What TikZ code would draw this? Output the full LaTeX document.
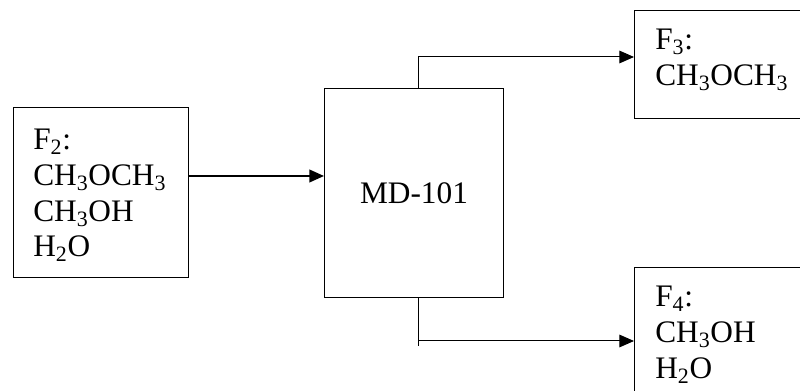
\documentclass[tikz,border=0pt]{standalone}
\usepackage{fontspec}
\setmainfont{Liberation Serif}
\usetikzlibrary{arrows.meta}
\begin{document}
\begin{tikzpicture}[x=0.75pt,y=-0.75pt,
  box/.style={draw, line width=0.75pt, inner sep=0pt, anchor=north west},
  txt/.style={inner sep=0pt, font=\fontsize{23.5}{26.75}\selectfont},
  lbl/.style={txt, anchor=base west},
  flow/.style={line width=0.75pt, -{Triangle[length=11pt,width=9.5pt]}}]
\useasboundingbox (0,0) rectangle (800,391);
\clip (0,0) rectangle (800,391);
% boxes
\node[box, minimum width=131.25pt, minimum height=127.5pt] (f2) at (13,107) {};
\node[box, minimum width=134.25pt, minimum height=156.75pt] (md) at (324,88) {};
\node[box, minimum width=132pt, minimum height=81pt] (f3) at (634,10) {};
\node[box, minimum width=132pt, minimum height=99.75pt] (f4) at (634,267) {};
% labels
\node[txt] (mdl) at (md.center) {MD-101};
\node[lbl] (f2t) at (33,150) {\begin{tabular}[t]{@{}l@{}}F\textsubscript{2}:\\CH\textsubscript{3}OCH\textsubscript{3}\\CH\textsubscript{3}OH\\H\textsubscript{2}O\end{tabular}};
\node[lbl] (f3t) at (655,50) {\begin{tabular}[t]{@{}l@{}}F\textsubscript{3}:\\CH\textsubscript{3}OCH\textsubscript{3}\end{tabular}};
\node[lbl] (f4t) at (655,307) {\begin{tabular}[t]{@{}l@{}}F\textsubscript{4}:\\CH\textsubscript{3}OH\\H\textsubscript{2}O\end{tabular}};
% connectors
\coordinate (yin) at (0,176);
\coordinate (tp) at (418,57);
\coordinate (bt) at (418,346);
\coordinate (bh) at (418,341);
\draw[flow, line width=1.5pt] (f2.east |- yin) -- (md.west |- yin);
\draw[flow] (tp |- md.north) -- (tp) -- (f3.west |- tp);
\draw[line width=0.75pt] (bt |- md.south) -- (bt);
\draw[flow] (bh) -- (f4.west |- bh);
\end{tikzpicture}
\end{document}
